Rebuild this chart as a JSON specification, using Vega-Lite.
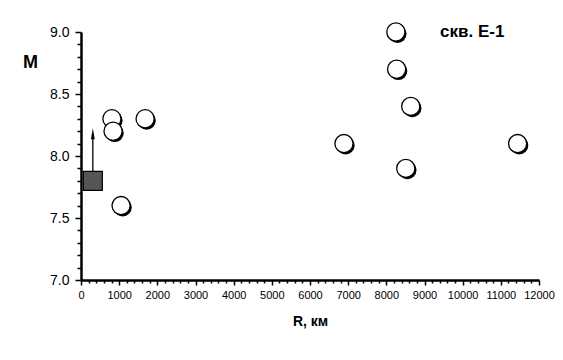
{
  "$schema": "https://vega.github.io/schema/vega-lite/v6.json",
  "width": 458,
  "height": 248,
  "autosize": "none",
  "padding": {"left": 81, "top": 32, "right": 24, "bottom": 80},
  "background": "white",
  "config": {"view": {"stroke": null}, "font": "Liberation Sans"},
  "datasets": {
    "pts": [
      {"R": 810, "M": 8.3},
      {"R": 840, "M": 8.2},
      {"R": 1680, "M": 8.3},
      {"R": 1050, "M": 7.6},
      {"R": 6890, "M": 8.1},
      {"R": 8250, "M": 9.0},
      {"R": 8270, "M": 8.7},
      {"R": 8640, "M": 8.4},
      {"R": 8510, "M": 7.9},
      {"R": 11440, "M": 8.1}
    ],
    "sq": [{"R": 310, "M": 7.8, "M2": 8.18}],
    "lbl": [{"R": 10250, "M": 9.0, "t": "скв. Е-1"}]
  },
  "encoding": {
    "x": {
      "field": "R", "type": "quantitative",
      "scale": {"domain": [0, 12000], "nice": false},
      "axis": {
        "values": [0,200,400,600,800,1000,1200,1400,1600,1800,2000,2200,2400,2600,2800,3000,3200,3400,3600,3800,4000,4200,4400,4600,4800,5000,5200,5400,5600,5800,6000,6200,6400,6600,6800,7000,7200,7400,7600,7800,8000,8200,8400,8600,8800,9000,9200,9400,9600,9800,10000,10200,10400,10600,10800,11000,11200,11400,11600,11800,12000],
        "labelExpr": "datum.value % 1000 == 0 ? datum.value : ''",
        "tickSize": {"condition": {"test": "datum.value % 1000 == 0", "value": 5}, "value": 3},
        "tickColor": "black", "tickWidth": 1.5,
        "domainColor": "black", "domainWidth": 2.5,
        "grid": false,
        "labelFontSize": 11, "labelColor": "black", "labelPadding": 4,
        "labelFlush": false, "labelOverlap": false,
        "title": "R, км", "titleFontSize": 14, "titleFontWeight": "bold", "titleColor": "black", "titlePadding": 14
      }
    },
    "y": {
      "field": "M", "type": "quantitative",
      "scale": {"domain": [7.0, 9.0], "nice": false, "zero": false},
      "axis": {
        "values": [7.0,7.1,7.2,7.3,7.4,7.5,7.6,7.7,7.8,7.9,8.0,8.1,8.2,8.3,8.4,8.5,8.6,8.7,8.8,8.9,9.0],
        "labelExpr": "abs(datum.value*2 - round(datum.value*2)) < 0.001 ? format(datum.value, '.1f') : ''",
        "tickSize": {"condition": {"test": "abs(datum.value*2 - round(datum.value*2)) < 0.001", "value": 6}, "value": 4},
        "tickColor": "black", "tickWidth": 1.5,
        "domainColor": "black", "domainWidth": 2.5,
        "grid": false,
        "labelFontSize": 14, "labelColor": "black", "labelPadding": 6,
        "labelFlush": false, "labelOverlap": false,
        "title": "M", "titleAngle": 0, "titleFontSize": 18, "titleFontWeight": "bold", "titleColor": "black",
        "titleX": -51, "titleY": 30, "titleAlign": "center", "titleBaseline": "middle"
      }
    }
  },
  "layer": [
    {
      "data": {"name": "sq"},
      "mark": {"type": "rule", "color": "black", "strokeWidth": 1.3},
      "encoding": {"y2": {"field": "M2"}}
    },
    {
      "data": {"name": "sq"},
      "mark": {"type": "point", "shape": "M-0.35,1L0,-1L0.35,1Z", "filled": true, "color": "black", "size": 120, "opacity": 1},
      "encoding": {"y": {"field": "M2", "type": "quantitative"}}
    },
    {
      "data": {"name": "sq"},
      "mark": {"type": "square", "size": 360, "fill": "#555555", "stroke": "black", "strokeWidth": 1.2, "opacity": 1}
    },
    {
      "data": {"name": "pts"},
      "mark": {"type": "circle", "size": 330, "color": "black", "opacity": 1, "xOffset": 1.6, "yOffset": 1.8}
    },
    {
      "data": {"name": "pts"},
      "mark": {"type": "circle", "size": 330, "fill": "white", "stroke": "black", "strokeWidth": 1.3, "opacity": 1}
    },
    {
      "data": {"name": "lbl"},
      "mark": {"type": "text", "fontSize": 17, "fontWeight": "bold", "color": "black", "baseline": "middle"},
      "encoding": {"text": {"field": "t"}}
    }
  ]
}
